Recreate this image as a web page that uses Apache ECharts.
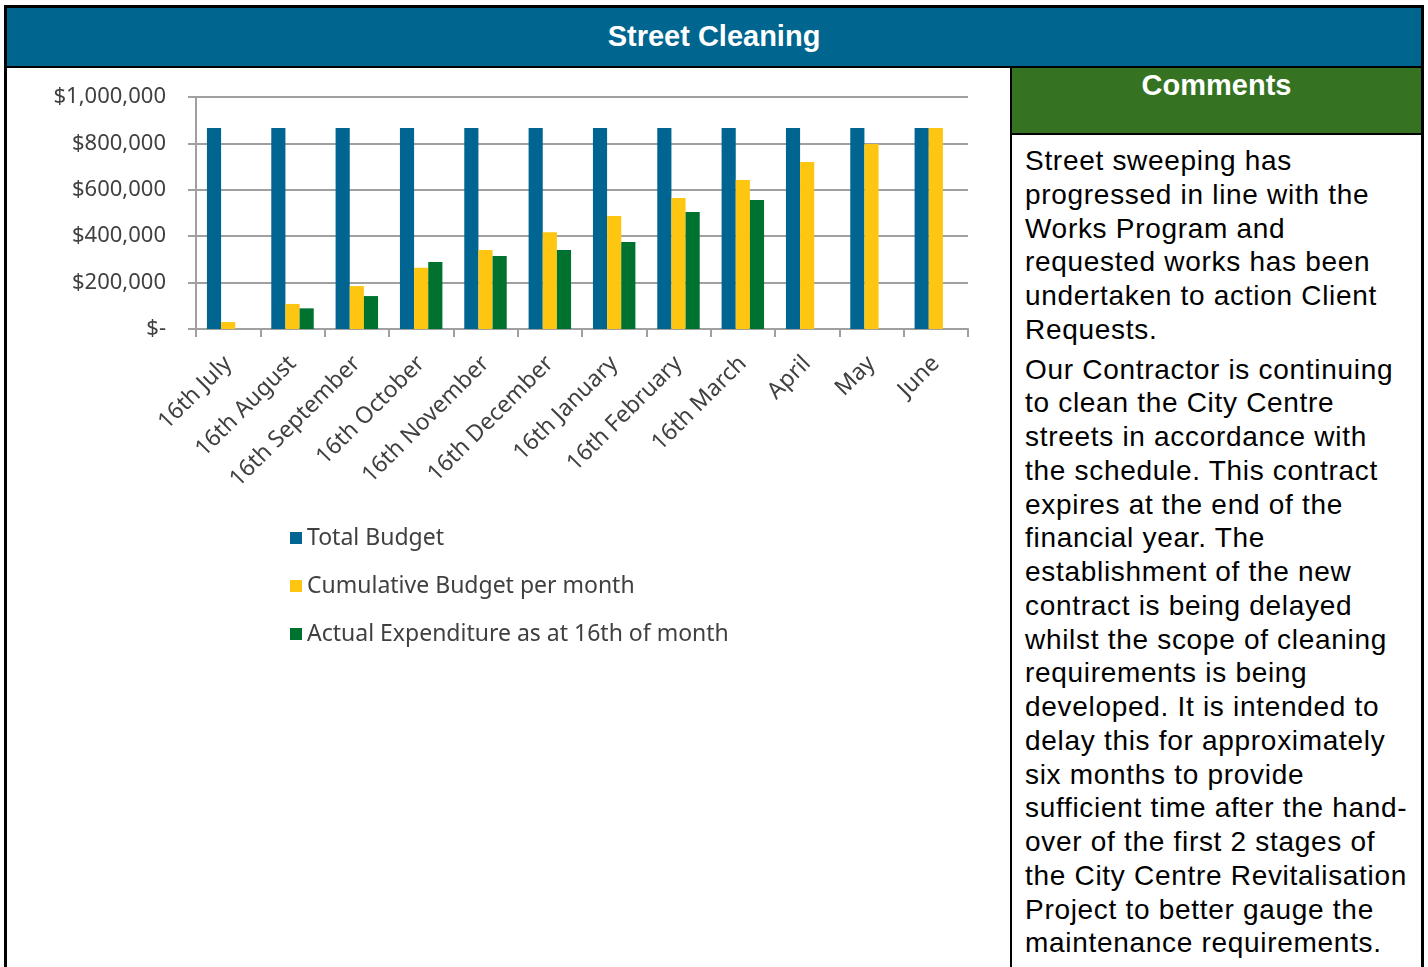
<!DOCTYPE html>
<html>
<head>
<meta charset="utf-8">
<script src="https://cdn.jsdelivr.net/npm/echarts@6/dist/echarts.min.js"></script>
<style>
  html, body { margin: 0; padding: 0; background: #fff; }
  body { width: 1428px; height: 967px; position: relative; overflow: hidden; font-family: "Liberation Sans", Arial, sans-serif; }
  .box { position: absolute; box-sizing: border-box; }
  #header {
    left: 4px; top: 5px; width: 1420px; height: 63px;
    background: #006690; border: 3px solid #000; border-bottom-width: 2px;
    color: #fff; font-weight: bold; font-size: 29px; text-align: center; line-height: 57px;
  }
  #left { left: 4px; top: 68px; width: 1008px; height: 910px; border-left: 3px solid #000; border-right: 2px solid #000; }
  #chart { position: absolute; left: 7px; top: 68px; width: 1003px; height: 899px; }
  #comHead {
    left: 1012px; top: 68px; width: 412px; height: 67px;
    background: #357222; border-right: 3px solid #000; border-bottom: 2px solid #000;
    color: #fff; font-weight: bold; font-size: 29px; text-align: center; padding-top: 1px; line-height: 32px;
  }
  #comBody {
    left: 1012px; top: 135px; width: 412px; height: 840px;
    border-right: 3px solid #000; padding: 9px 8px 0 13px;
    font-size: 28px; letter-spacing: 0.7px; line-height: 33.75px; color: #000;
  }
  #comBody p { margin: 0 0 6px 0; }
</style>
</head>
<body>
<div class="box" id="header">Street Cleaning</div>
<div class="box" id="left"></div>
<div id="chart"></div>
<div class="box" id="comHead">Comments</div>
<div class="box" id="comBody">
  <p>Street sweeping has progressed in line with the Works Program and requested works has been undertaken to action Client Requests.</p>
  <p>Our Contractor is continuing to clean the City Centre streets in accordance with the schedule. This contract expires at the end of the financial year. The establishment of the new contract is being delayed whilst the scope of cleaning requirements is being developed. It is intended to delay this for approximately six months to provide sufficient time after the hand-over of the first 2 stages of the City Centre Revitalisation Project to better gauge the maintenance requirements.</p>
</div>
<script>
const months = ["16th July", "16th August", "16th September", "16th October", "16th November",
  "16th December", "16th January", "16th February", "16th March", "April", "May", "June"];
const totalBudget = [866000, 866000, 866000, 866000, 866000, 866000, 866000, 866000, 866000, 866000, 866000, 866000];
const cumulativeBudget = [30000, 108000, 185000, 264000, 340000, 417000, 487000, 565000, 642000, 720000, 797000, 866000];
const actualSpend = [null, 89000, 142000, 289000, 315000, 340000, 375000, 504000, 556000, null, null, null];
const seriesNames = ["Total Budget", "Cumulative Budget per month", "Actual Expenditure as at 16th of month"];
const seriesColors = ["#006591", "#FFC611", "#00722F"];

const labelFont = "'Noto Sans', 'Open Sans', sans-serif";
const chart = echarts.init(document.getElementById("chart"));

function money(v) {
  if (v === 0) return "$-";
  return "$" + v.toLocaleString("en-US");
}

chart.setOption({
  animation: false,
  grid: { left: 189, right: 42, top: 29, height: 232 },
  legend: {
    orient: "vertical",
    left: 278,
    top: 453,
    itemWidth: 12,
    itemHeight: 12,
    itemGap: 24,
    icon: "rect",
    textStyle: { color: "#404040", fontSize: 23, fontFamily: labelFont, lineHeight: 24 },
    data: seriesNames,
  },
  xAxis: {
    type: "category",
    data: months,
    axisLine: { lineStyle: { color: "#a0a0a0", width: 2 } },
    axisTick: { show: true, length: 8, lineStyle: { color: "#a0a0a0", width: 2 } },
    axisLabel: { rotate: 45, color: "#404040", fontSize: 23, fontFamily: labelFont, margin: 31, interval: 0 },
  },
  yAxis: {
    type: "value",
    min: 0,
    max: 1000000,
    interval: 200000,
    axisLine: { show: true, lineStyle: { color: "#a0a0a0", width: 2 } },
    axisTick: { show: true, length: 8, lineStyle: { color: "#a0a0a0", width: 2 } },
    splitLine: { lineStyle: { color: "#a0a0a0", width: 2 } },
    axisLabel: { color: "#404040", fontSize: 22, fontFamily: labelFont, margin: 30, formatter: money },
  },
  series: [
    { name: seriesNames[0], type: "bar", data: totalBudget, itemStyle: { color: seriesColors[0] }, barGap: "0%", barCategoryGap: "34%" },
    { name: seriesNames[1], type: "bar", data: cumulativeBudget, itemStyle: { color: seriesColors[1] } },
    { name: seriesNames[2], type: "bar", data: actualSpend, itemStyle: { color: seriesColors[2] } },
  ],
});
</script>
</body>
</html>
